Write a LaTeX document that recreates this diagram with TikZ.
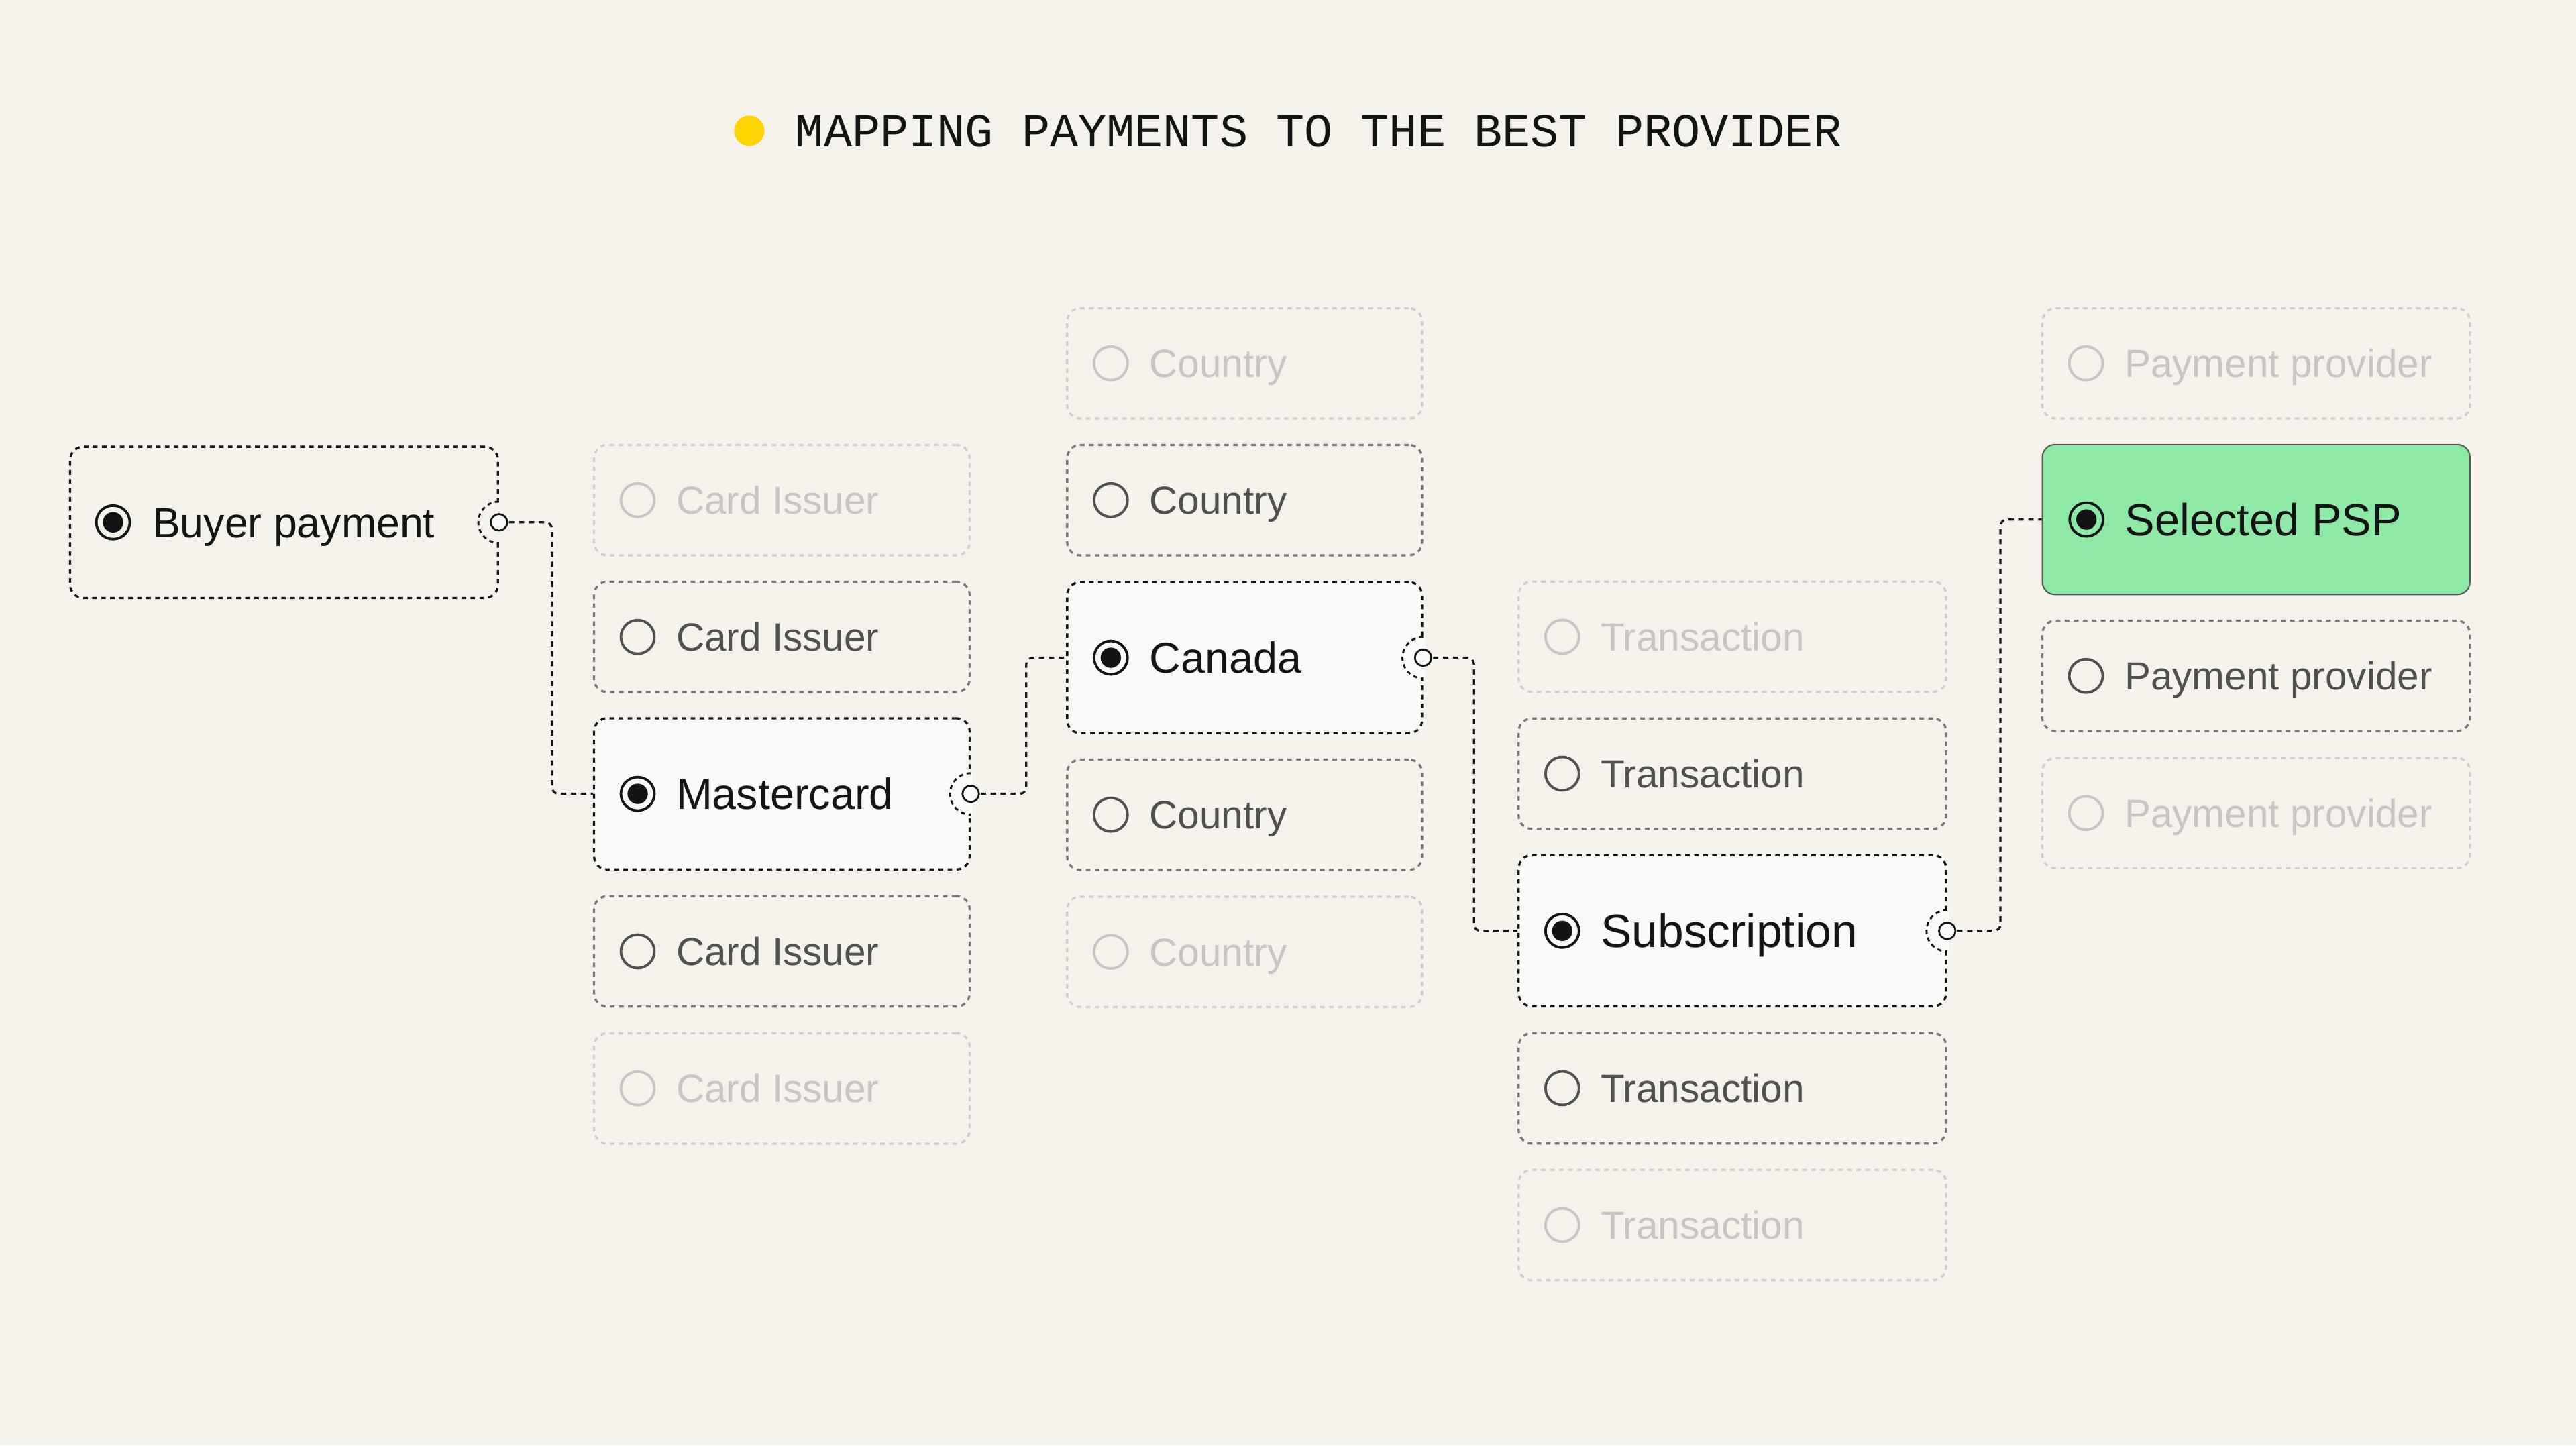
\documentclass[tikz,border=0pt]{standalone}
\usepackage{fontspec}
\setmainfont{Liberation Sans}
\newfontfamily\titlefont{Liberation Mono}
\usetikzlibrary{positioning}

\definecolor{paper}{HTML}{F5F2EC}
\definecolor{cardfill}{HTML}{FAF9F7}
\definecolor{ink}{HTML}{141414}
\definecolor{greyink}{HTML}{52504C}
\definecolor{greyedge}{HTML}{7A7773}
\definecolor{fadeink}{HTML}{C9C6C1}
\definecolor{fadeedge}{HTML}{D0CDC8}
\definecolor{pspgreen}{HTML}{8FE9A6}
\definecolor{pspedge}{HTML}{4B5E50}
\definecolor{dotyellow}{HTML}{FFD400}

\tikzset{
    optbox/.style={rectangle, rounded corners=2mm, line width=0.95pt, dash pattern=on 2pt off 1.9pt, minimum height=16.8mm, inner sep=0pt},
    fadedbox/.style={optbox, draw=fadeedge},
    plainbox/.style={optbox, draw=greyedge},
    chosenbox/.style={optbox, draw=ink, fill=cardfill, minimum height=23mm},
    bigbox/.style={chosenbox},
    pspbox/.style={rectangle, rounded corners=1.9mm, draw=pspedge, line width=0.6pt, fill=pspgreen, minimum height=22.8mm, inner sep=0pt},
    optradio/.style={circle, line width=1.1pt, minimum size=5.1mm, inner sep=0pt},
    fadedradio/.style={optradio, draw=fadeink},
    plainradio/.style={optradio, draw=greyink},
    chosenradio/.style={optradio, draw=ink, path picture={\fill[ink] (path picture bounding box.center) circle (1.55mm);}},
    bigradio/.style={chosenradio},
    pspradio/.style={chosenradio},
    opttxt/.style={anchor=west, inner sep=0pt, font=\fontsize{17pt}{20pt}\selectfont, text height=12.2pt, text depth=0pt},
    fadedtxt/.style={opttxt, text=fadeink},
    plaintxt/.style={opttxt, text=greyink},
    chosentxt/.style={opttxt, text=ink, font=\fontsize{18.8pt}{22pt}\selectfont, text height=13.5pt},
    bigtxt/.style={chosentxt, font=\fontsize{20.2pt}{24pt}\selectfont, text height=14.4pt},
    psptxt/.style={chosentxt, font=\fontsize{19.4pt}{23pt}\selectfont, text height=13.9pt},
    titletxt/.style={inner sep=0pt, text=ink, font=\titlefont\fontsize{20.4pt}{24pt}\selectfont, text height=13.5pt, text depth=0pt},
    link/.style={draw=ink, line width=0.95pt, dash pattern=on 2.3pt off 2pt, rounded corners=1mm},
    portring/.style={draw=ink, line width=0.85pt, dash pattern=on 1.8pt off 1.6pt},
    portdot/.style={circle, draw=ink, fill=cardfill, line width=0.8pt, minimum size=2.5mm, inner sep=0pt}
}

\begin{document}
\begin{tikzpicture}[x=0.25mm, y=-0.25mm]
    \fill[paper] (0,0) rectangle (1568,880);
    \useasboundingbox (0,0) rectangle (1568,880);

    % title
    \node[circle, fill=dotyellow, minimum size=4.6mm, inner sep=0pt] (dot) at (456.1,79.6) {};
    \node[titletxt, right=4.6mm of dot] (title) {MAPPING PAYMENTS TO THE BEST PROVIDER};

    % buyer payment
    \node[chosenbox, fill=paper, minimum width=65.1mm] (buyer) at (172.9,318) {};
    \node[chosenradio] (buyer-r) at ([xshift=6.7mm]buyer.west) {};
    \node[chosentxt, font=\fontsize{18.2pt}{22pt}\selectfont, text height=13.1pt] (buyer-t) at ([xshift=12.6mm]buyer.west) {Buyer payment};

    % card issuer
    \foreach \y/\sty/\txt/\nm in {304.5/faded/Card Issuer/ci1, 387.8/plain/Card Issuer/ci2, 483.3/chosen/Mastercard/mc, 579.2/plain/Card Issuer/ci4, 662.6/faded/Card Issuer/ci5}{
        \node[\sty box, minimum width=57.15mm] (\nm) at (475.9,\y) {};
        \node[\sty radio] (\nm-r) at ([xshift=6.8mm]\nm.west) {};
        \node[\sty txt] (\nm-t) at ([xshift=12.6mm]\nm.west) {\txt};
    }

    % country
    \foreach \y/\sty/\txt/\nm in {221.2/faded/Country/co1, 304.5/plain/Country/co2, 400.4/chosen/Canada/ca, 496/plain/Country/co4, 579.5/faded/Country/co5}{
        \node[\sty box, minimum width=54mm] (\nm) at (757.6,\y) {};
        \node[\sty radio] (\nm-r) at ([xshift=6.8mm]\nm.west) {};
        \node[\sty txt] (\nm-t) at ([xshift=12.6mm]\nm.west) {\txt};
    }

    % transaction type
    \foreach \y/\sty/\txt/\nm in {387.7/faded/Transaction/tr1, 471/plain/Transaction/tr2, 566.7/big/Subscription/sub, 662.5/plain/Transaction/tr4, 745.8/faded/Transaction/tr5}{
        \node[\sty box, minimum width=65.05mm] (\nm) at (1054.5,\y) {};
        \node[\sty radio] (\nm-r) at ([xshift=6.8mm]\nm.west) {};
        \node[\sty txt] (\nm-t) at ([xshift=12.6mm]\nm.west) {\txt};
    }

    % providers
    \foreach \y/\sty/\txt/\nm in {221.2/faded/Payment provider/pp1, 316.3/psp/Selected PSP/psp, 411.5/plain/Payment provider/pp3, 495/faded/Payment provider/pp4}{
        \node[\sty box, minimum width=65.05mm] (\nm) at (1373.3,\y) {};
        \node[\sty radio] (\nm-r) at ([xshift=6.8mm]\nm.west) {};
        \node[\sty txt] (\nm-t) at ([xshift=12.6mm]\nm.west) {\txt};
    }

    % links
    \draw[link] (buyer.east) -- ++(32.2,0) |- (mc.west);
    \draw[link] (mc.east) -- ++(33.8,0) |- (ca.west);
    \draw[link] (ca.east) -- ++(30.9,0) |- (sub.west);
    \draw[link] (sub.east) -- ++(32.4,0) |- (psp.west);

    % ports
    \foreach \nm/\fl in {buyer/paper, mc/cardfill, ca/cardfill, sub/cardfill}{
        \fill[\fl] ([xshift=0.3mm]\nm.east) ++(0,3.3mm) arc[start angle=90, end angle=270, radius=3.3mm] -- cycle;
        \draw[portring] (\nm.east) ++(0,3.15mm) arc[start angle=90, end angle=270, radius=3.15mm];
        \node[portdot] (\nm-p) at (\nm.east) {};
    }
\end{tikzpicture}
\end{document}
